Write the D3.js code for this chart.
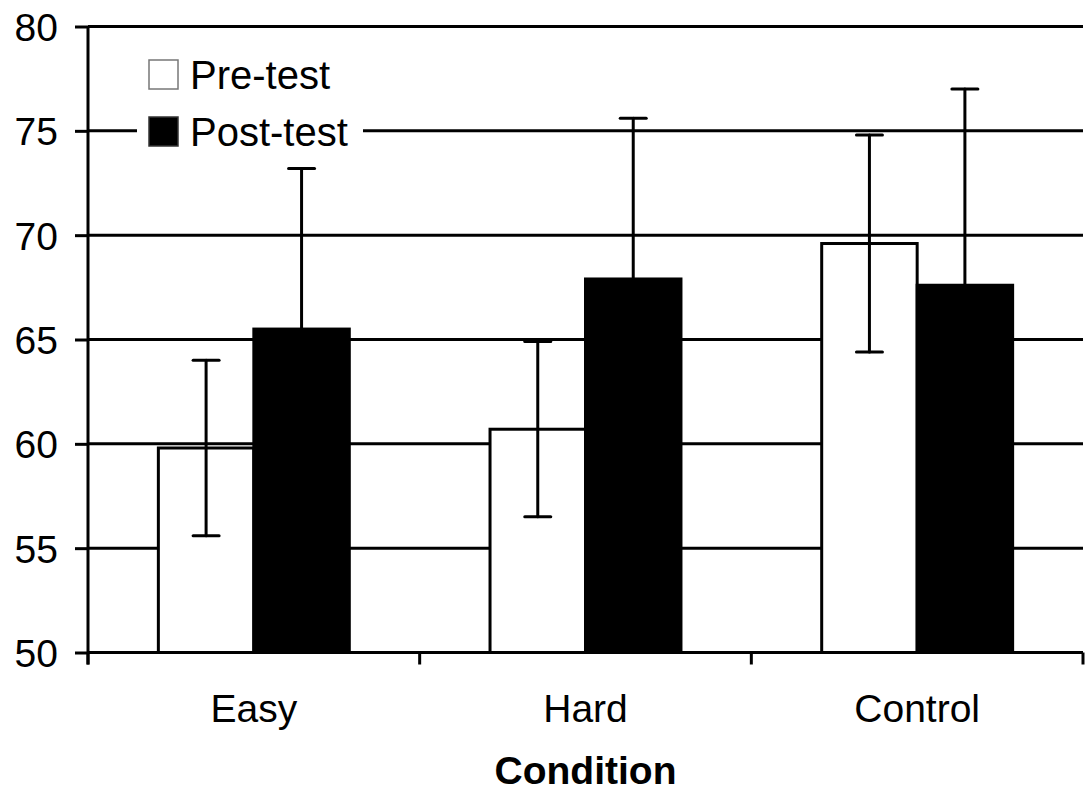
<!DOCTYPE html>
<html>
<head>
<meta charset="utf-8">
<script src="https://cdn.jsdelivr.net/npm/d3@7"></script>
<style>
  body { margin: 0; background: #fff; }
  text { font-family: "Liberation Sans", Arial, sans-serif; fill: #000; }
</style>
</head>
<body>
<div id="chart-area"></div>
<script>
var categories = ["Easy", "Hard", "Control"];
var series = ["Pre-test", "Post-test"];
var preMeans = [59.8, 60.7, 69.6];
var preErrors = [4.2, 4.2, 5.2];
var postMeans = [65.5, 67.9, 67.6];
var postErrors = [7.7, 7.7, 9.4];
var yTicks = [50, 55, 60, 65, 70, 75, 80];

var width = 1085;
var height = 792;
var margin = { left: 88, right: 2, top: 26.5, bottom: 139.5 };

var svg = d3.select("#chart-area")
  .append("svg")
  .attr("width", width)
  .attr("height", height);

var x = d3.scaleBand()
  .domain(categories)
  .range([margin.left, width - margin.right]);

var xInner = d3.scaleBand()
  .domain(series)
  .range([0, x.bandwidth()])
  .paddingOuter(0.737);

var y = d3.scaleLinear()
  .domain([50, 80])
  .range([height - margin.bottom, margin.top]);

var data = [];
categories.forEach(function(c, i){
  data.push({ cat: c, s: "Pre-test", mean: preMeans[i], err: preErrors[i] });
  data.push({ cat: c, s: "Post-test", mean: postMeans[i], err: postErrors[i] });
});

// gridlines
svg.append("g")
  .selectAll("line")
  .data(yTicks.slice(1))
  .enter()
  .append("line")
  .attr("x1", margin.left)
  .attr("x2", width - margin.right)
  .attr("y1", function(d){ return y(d); })
  .attr("y2", function(d){ return y(d); })
  .attr("stroke", "#000")
  .attr("stroke-width", 3);

// legend background
var legend = svg.append("g");
legend.append("rect")
  .attr("x", 137)
  .attr("y", 48)
  .attr("width", 226)
  .attr("height", 108)
  .attr("fill", "#fff");

// bars
svg.append("g")
  .selectAll("rect")
  .data(data)
  .enter()
  .append("rect")
  .attr("x", function(d){ return x(d.cat) + xInner(d.s); })
  .attr("width", xInner.bandwidth())
  .attr("y", function(d){ return y(d.mean); })
  .attr("height", function(d){ return y(50) - y(d.mean); })
  .attr("fill", function(d){ return d.s == "Pre-test" ? "#fff" : "#000"; })
  .attr("stroke", "#000")
  .attr("stroke-width", 3);

// error bars
var capW = 13;
var eb = svg.append("g")
  .selectAll("g")
  .data(data)
  .enter()
  .append("g")
  .attr("stroke", "#000")
  .attr("stroke-width", 3)
  .attr("stroke-linecap", "round");

function cx(d){ return x(d.cat) + xInner(d.s) + xInner.bandwidth() / 2; }

eb.append("line")
  .attr("x1", cx).attr("x2", cx)
  .attr("y1", function(d){ return y(d.mean - d.err); })
  .attr("y2", function(d){ return y(d.mean + d.err); });
eb.append("line")
  .attr("x1", function(d){ return cx(d) - capW; })
  .attr("x2", function(d){ return cx(d) + capW; })
  .attr("y1", function(d){ return y(d.mean + d.err); })
  .attr("y2", function(d){ return y(d.mean + d.err); });
eb.append("line")
  .attr("x1", function(d){ return cx(d) - capW; })
  .attr("x2", function(d){ return cx(d) + capW; })
  .attr("y1", function(d){ return y(d.mean - d.err); })
  .attr("y2", function(d){ return y(d.mean - d.err); });

// y axis
var yAxisCall = d3.axisLeft(y)
  .tickValues(yTicks)
  .tickSize(13)
  .tickPadding(17);
var yAxisGroup = svg.append("g")
  .attr("transform", "translate(" + margin.left + ",0)")
  .call(yAxisCall);
yAxisGroup.select(".domain").remove();
yAxisGroup.append("line")
  .attr("x1", 0).attr("x2", 0)
  .attr("y1", y(80)).attr("y2", y(50) + 12)
  .attr("stroke", "#000").attr("stroke-width", 3);
yAxisGroup.selectAll(".tick line").attr("stroke-width", 3);
yAxisGroup.selectAll(".tick text")
  .style("font-family", "Liberation Sans, Arial, sans-serif")
  .style("font-size", "39px")
  .attr("dy", "0.36em");

// x axis
var xAxisGroup = svg.append("g")
  .attr("transform", "translate(0," + y(50) + ")");
xAxisGroup.append("line")
  .attr("x1", margin.left).attr("x2", width - margin.right)
  .attr("stroke", "#000").attr("stroke-width", 3);
xAxisGroup.selectAll(".xtick")
  .data(categories.concat(["end"]))
  .enter()
  .append("line")
  .attr("x1", function(d, i){ return i < categories.length ? x(d) : x(categories[i - 1]) + x.bandwidth(); })
  .attr("x2", function(d, i){ return i < categories.length ? x(d) : x(categories[i - 1]) + x.bandwidth(); })
  .attr("y1", 0).attr("y2", 12)
  .attr("stroke", "#000").attr("stroke-width", 3);
xAxisGroup.selectAll(".xlabel")
  .data(categories)
  .enter()
  .append("text")
  .attr("x", function(d){ return x(d) + x.bandwidth() / 2; })
  .attr("y", 69)
  .attr("text-anchor", "middle")
  .style("font-size", "39px")
  .text(function(d){ return d; });

svg.append("text")
  .attr("x", x("Hard") + x.bandwidth() / 2)
  .attr("y", 784)
  .attr("text-anchor", "middle")
  .style("font-size", "39px")
  .style("font-weight", "bold")
  .text("Condition");

// legend items
var li = legend.selectAll(".item")
  .data(series)
  .enter()
  .append("g")
  .attr("transform", function(d, i){ return "translate(149," + (60 + i * 57) + ")"; });
li.append("rect")
  .attr("width", 29).attr("height", 29)
  .attr("fill", function(d){ return d == "Pre-test" ? "#fff" : "#000"; })
  .attr("stroke", function(d){ return d == "Pre-test" ? "#777" : "#333"; })
  .attr("stroke-width", 1.5);
li.append("text")
  .attr("x", 41)
  .attr("y", 29)
  .style("font-size", "40px")
  .text(function(d){ return d; });
</script>
</body>
</html>
